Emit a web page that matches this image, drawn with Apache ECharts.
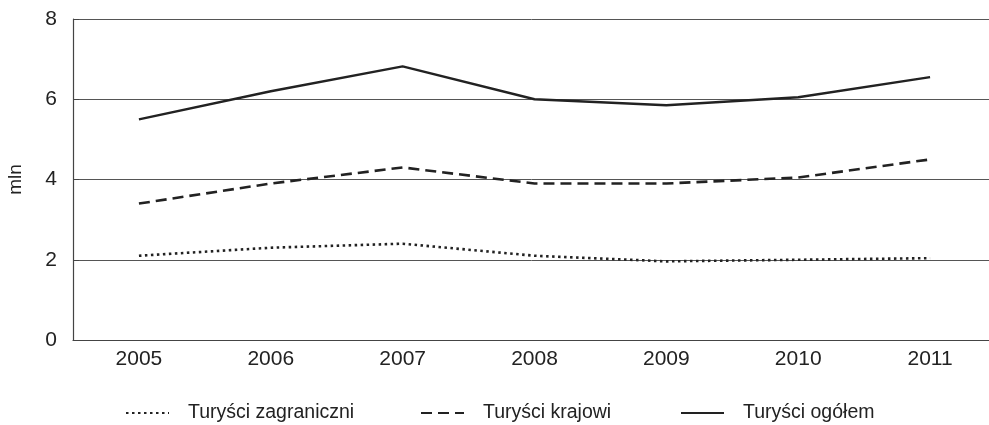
<!DOCTYPE html>
<html><head><meta charset="utf-8">
<script src="https://cdn.jsdelivr.net/npm/echarts@6/dist/echarts.min.js"></script>
<style>html,body{margin:0;padding:0;background:#fff}#c{width:989px;height:425px}</style>
</head><body><div id="c"></div>
<script>
var years = ['2005','2006','2007','2008','2009','2010','2011'];
var foreign = [2.1, 2.3, 2.4, 2.1, 1.96, 2.0, 2.04];
var domestic = [3.4, 3.9, 4.3, 3.9, 3.9, 4.05, 4.5];
var total = [5.5, 6.2, 6.82, 6.0, 5.85, 6.05, 6.55];
var yTicks = [0, 2, 4, 6, 8];
var names = ['Turyści zagraniczni', 'Turyści krajowi', 'Turyści ogółem'];

var FONT = 'Liberation Sans';
var chart = echarts.init(document.getElementById('c'), null, {renderer:'canvas'});
function leg(name, left){
  return {data:[name], left:left, top:398, itemWidth:43, itemHeight:12,
    itemStyle:{opacity:0},
    textStyle:{fontFamily:FONT, fontSize:19.5, color:'#222', padding:[0,0,0,14]}, selectedMode:false};
}
chart.setOption({
  animation:false,
  grid:{left:73, top:19, width:923, height:321, containLabel:false, outerBoundsMode:'none'},
  legend:[leg(names[0],120), leg(names[1],415), leg(names[2],675)],
  xAxis:{type:'category', data:years, boundaryGap:true,
    axisLine:{lineStyle:{color:'#444', width:1.2}},
    axisTick:{inside:true, length:7, lineStyle:{color:'#444'}},
    axisLabel:{fontFamily:FONT, fontSize:21, color:'#222', margin:9},
    splitLine:{show:false}},
  yAxis:{type:'value', min:yTicks[0], max:yTicks[yTicks.length-1], interval:2,
    name:'mln', nameLocation:'middle', nameGap:48, nameRotate:90,
    nameTextStyle:{fontFamily:FONT, fontSize:19, color:'#222'},
    axisLine:{show:true, lineStyle:{color:'#444', width:1.2}},
    axisTick:{show:true, inside:true, length:6, lineStyle:{color:'#444'}},
    axisLabel:{fontFamily:FONT, fontSize:21, color:'#222', margin:16},
    splitLine:{show:true, lineStyle:{color:'#555', width:1}}},
  series:[
    {name:names[0], type:'line', data:foreign, smooth:false, symbol:'none',
      lineStyle:{color:'#222', width:2.6, type:[2.5,3.5]}, itemStyle:{color:'#222'}},
    {name:names[1], type:'line', data:domestic, smooth:false, symbol:'none',
      lineStyle:{color:'#222', width:2.6, type:[11,6]}, itemStyle:{color:'#222'}},
    {name:names[2], type:'line', data:total, smooth:false, symbol:'none',
      lineStyle:{color:'#222', width:2.4}, itemStyle:{color:'#222'}}
  ]
});
</script></body></html>
